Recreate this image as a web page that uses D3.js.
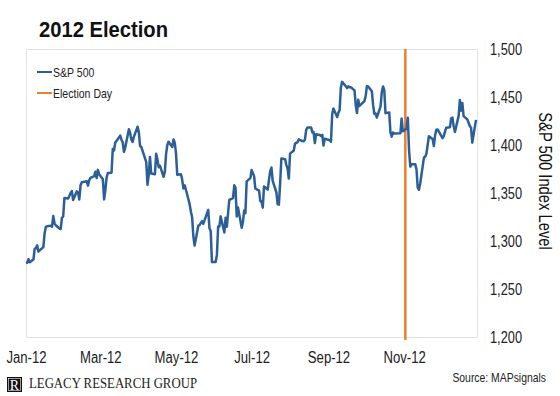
<!DOCTYPE html>
<html><head><meta charset="utf-8">
<script src="https://cdn.jsdelivr.net/npm/d3@7/dist/d3.min.js"></script>
<style>
html,body{margin:0;padding:0;background:#fff;}
svg{display:block;}
text{font-family:'Liberation Sans',Arial,sans-serif;}
</style></head>
<body><svg id="chart" width="560" height="396"></svg>
<script>
// ---- data ----
const dates = ["2012-01-03","2012-01-04","2012-01-05","2012-01-06","2012-01-09","2012-01-10","2012-01-11","2012-01-12","2012-01-13","2012-01-17","2012-01-18","2012-01-19","2012-01-20","2012-01-23","2012-01-24","2012-01-25","2012-01-26","2012-01-27","2012-01-30","2012-01-31",
"2012-02-01","2012-02-02","2012-02-03","2012-02-06","2012-02-07","2012-02-08","2012-02-09","2012-02-10","2012-02-13","2012-02-14","2012-02-15","2012-02-16","2012-02-17","2012-02-21","2012-02-22","2012-02-23","2012-02-24","2012-02-27","2012-02-28","2012-02-29",
"2012-03-01","2012-03-02","2012-03-05","2012-03-06","2012-03-07","2012-03-08","2012-03-09","2012-03-12","2012-03-13","2012-03-14","2012-03-15","2012-03-16","2012-03-19","2012-03-20","2012-03-21","2012-03-22","2012-03-23","2012-03-26","2012-03-27","2012-03-28","2012-03-29","2012-03-30",
"2012-04-02","2012-04-03","2012-04-04","2012-04-05","2012-04-09","2012-04-10","2012-04-11","2012-04-12","2012-04-13","2012-04-16","2012-04-17","2012-04-18","2012-04-19","2012-04-20","2012-04-23","2012-04-24","2012-04-25","2012-04-26","2012-04-27","2012-04-30",
"2012-05-01","2012-05-02","2012-05-03","2012-05-04","2012-05-07","2012-05-08","2012-05-09","2012-05-10","2012-05-11","2012-05-14","2012-05-15","2012-05-16","2012-05-17","2012-05-18","2012-05-21","2012-05-22","2012-05-23","2012-05-24","2012-05-25","2012-05-29","2012-05-30","2012-05-31",
"2012-06-01","2012-06-04","2012-06-05","2012-06-06","2012-06-07","2012-06-08","2012-06-11","2012-06-12","2012-06-13","2012-06-14","2012-06-15","2012-06-18","2012-06-19","2012-06-20","2012-06-21","2012-06-22","2012-06-25","2012-06-26","2012-06-27","2012-06-28","2012-06-29",
"2012-07-02","2012-07-03","2012-07-05","2012-07-06","2012-07-09","2012-07-10","2012-07-11","2012-07-12","2012-07-13","2012-07-16","2012-07-17","2012-07-18","2012-07-19","2012-07-20","2012-07-23","2012-07-24","2012-07-25","2012-07-26","2012-07-27","2012-07-30","2012-07-31",
"2012-08-01","2012-08-02","2012-08-03","2012-08-06","2012-08-07","2012-08-08","2012-08-09","2012-08-10","2012-08-13","2012-08-14","2012-08-15","2012-08-16","2012-08-17","2012-08-20","2012-08-21","2012-08-22","2012-08-23","2012-08-24","2012-08-27","2012-08-28","2012-08-29","2012-08-30","2012-08-31",
"2012-09-04","2012-09-05","2012-09-06","2012-09-07","2012-09-10","2012-09-11","2012-09-12","2012-09-13","2012-09-14","2012-09-17","2012-09-18","2012-09-19","2012-09-20","2012-09-21","2012-09-24","2012-09-25","2012-09-26","2012-09-27","2012-09-28",
"2012-10-01","2012-10-02","2012-10-03","2012-10-04","2012-10-05","2012-10-08","2012-10-09","2012-10-10","2012-10-11","2012-10-12","2012-10-15","2012-10-16","2012-10-17","2012-10-18","2012-10-19","2012-10-22","2012-10-23","2012-10-24","2012-10-25","2012-10-26","2012-10-31",
"2012-11-01","2012-11-02","2012-11-05","2012-11-06","2012-11-07","2012-11-08","2012-11-09","2012-11-12","2012-11-13","2012-11-14","2012-11-15","2012-11-16","2012-11-19","2012-11-20","2012-11-21","2012-11-23","2012-11-26","2012-11-27","2012-11-28","2012-11-29","2012-11-30",
"2012-12-03","2012-12-04","2012-12-05","2012-12-06","2012-12-07","2012-12-10","2012-12-11","2012-12-12","2012-12-13","2012-12-14","2012-12-17","2012-12-18","2012-12-19","2012-12-20","2012-12-21","2012-12-24","2012-12-26","2012-12-27","2012-12-28","2012-12-31"];
const spx = [1277.06,1277.30,1281.06,1277.81,1280.70,1292.08,1292.48,1295.50,1289.09,1293.67,1308.04,1314.50,1315.38,1316.00,1314.65,1326.06,1318.43,1316.33,1313.01,1312.41,
1324.09,1325.54,1344.90,1344.33,1347.05,1349.96,1351.95,1342.64,1351.77,1350.50,1343.23,1358.04,1361.23,1362.21,1357.66,1363.46,1365.74,1367.59,1372.18,1365.68,
1374.09,1369.63,1364.33,1343.36,1352.63,1365.91,1370.87,1371.09,1395.95,1394.28,1402.60,1404.17,1409.75,1405.52,1402.89,1392.78,1397.11,1416.51,1412.52,1405.54,1403.28,1408.47,
1419.04,1413.38,1398.96,1398.08,1382.20,1358.59,1368.71,1387.57,1370.26,1369.57,1390.78,1385.14,1376.92,1378.53,1366.94,1371.97,1390.69,1399.98,1403.36,1397.91,
1405.82,1402.31,1391.57,1369.10,1369.58,1363.72,1354.58,1357.99,1353.39,1338.35,1330.66,1324.80,1304.86,1295.22,1315.99,1316.63,1318.86,1320.68,1317.82,1332.42,1313.32,1310.33,
1278.04,1278.18,1285.50,1315.13,1314.99,1325.66,1308.93,1324.18,1314.88,1329.10,1342.84,1344.78,1357.98,1355.69,1325.51,1335.02,1313.72,1319.99,1331.85,1329.04,1362.16,
1365.51,1374.02,1367.58,1354.68,1352.46,1341.47,1341.45,1334.76,1356.78,1353.64,1363.67,1372.78,1376.51,1362.66,1350.52,1338.31,1337.89,1360.02,1385.97,1385.30,1379.32,
1375.32,1365.00,1390.99,1394.23,1401.35,1402.22,1402.80,1405.87,1404.11,1403.93,1405.53,1415.51,1418.16,1418.13,1413.17,1413.49,1402.08,1411.13,1410.44,1409.30,1410.49,1399.48,1406.58,
1404.94,1403.44,1432.12,1437.92,1429.08,1433.56,1436.56,1459.99,1465.77,1461.19,1459.32,1461.05,1460.26,1460.15,1456.89,1441.59,1433.32,1447.15,1440.67,
1444.49,1445.75,1450.99,1461.40,1460.93,1455.88,1441.48,1432.56,1432.84,1428.59,1440.13,1454.92,1460.91,1457.34,1433.19,1433.82,1413.11,1408.75,1412.97,1411.94,1412.16,
1427.59,1414.20,1417.26,1428.39,1394.53,1377.51,1379.85,1380.03,1374.53,1355.49,1353.33,1359.88,1386.89,1387.81,1391.03,1409.15,1406.29,1398.94,1409.93,1415.95,1416.18,
1409.46,1407.05,1409.28,1413.94,1418.07,1418.55,1427.84,1428.48,1419.45,1413.58,1430.36,1446.79,1435.81,1443.69,1430.15,1426.66,1419.83,1418.10,1402.43,1426.19];
const electionDay = "2012-11-04";
const xTickDates = ["2012-01-03","2012-03-03","2012-05-03","2012-07-03","2012-09-03","2012-11-03"];
const xTickLabels = ["Jan-12","Mar-12","May-12","Jul-12","Sep-12","Nov-12"];
const yTicks = [1200,1250,1300,1350,1400,1450,1500];
const legendLabels = ["S&P 500","Election Day"];
const titleText = "2012 Election";
const yTitle = "S&P 500 Index Level";
const sourceText = "Source: MAPsignals";
const brandText = "LEGACY RESEARCH GROUP";

// ---- chart ----
const parse = d3.timeParse("%Y-%m-%d");
const series = dates.map((d,i)=>({date:parse(d), v:spx[i]}));
const blue = "#2b5f98", orange = "#f07d2c";
const svg = d3.select("#chart");
const L=26, R=477, T=49, B=337;
const x = d3.scaleTime().domain([parse("2012-01-03"), parse("2012-12-31")]).range([L, 476]);
const y = d3.scaleLinear().domain([1200,1500]).range([B, T]);

// narrow-font emulation: squeeze glyphs horizontally
function condense(sel, f){
  sel.each(function(){
    const len = this.getComputedTextLength();
    d3.select(this).attr("textLength", len*f).attr("lengthAdjust","spacingAndGlyphs");
  });
}

svg.append("rect").attr("x",L+0.5).attr("y",T+0.5).attr("width",R-L).attr("height",B-T)
  .attr("fill","none").attr("stroke","#e3e3e3").attr("stroke-width",1);

// title
svg.append("text").attr("x",39).attr("y",37).text(titleText)
  .attr("font-size",22).attr("font-weight","bold").attr("fill","#111")
  .attr("textLength",129).attr("lengthAdjust","spacingAndGlyphs");

// election line
svg.append("line").attr("x1",x(parse(electionDay))).attr("x2",x(parse(electionDay)))
  .attr("y1",T).attr("y2",B+3).attr("stroke",orange).attr("stroke-width",2.5);

// S&P line
svg.append("path").datum(series)
  .attr("fill","none").attr("stroke",blue).attr("stroke-width",2.5).attr("stroke-linejoin","round")
  .attr("d", d3.line().x(d=>x(d.date)).y(d=>y(d.v)));

// y axis (right)
const yAxis = svg.append("g").attr("transform",`translate(490,0)`)
  .call(d3.axisRight(y).tickValues(yTicks).tickSize(0).tickPadding(0).tickFormat(d3.format(",")));
yAxis.select(".domain").remove();
yAxis.selectAll("text").attr("font-size",16).attr("fill","#222").attr("font-family",null);
condense(yAxis.selectAll("text"), 0.8);

const yt = svg.append("text").attr("transform",`translate(539,181) rotate(90)`).attr("text-anchor","middle")
  .attr("font-size",18).attr("fill","#111").text(yTitle);
condense(yt, 0.82);

// x axis
const xAxis = svg.append("g").attr("transform",`translate(0,${B})`)
  .call(d3.axisBottom(x).tickValues(xTickDates.map(parse)).tickSize(0).tickPadding(15)
    .tickFormat((d,i)=>xTickLabels[i]));
xAxis.select(".domain").remove();
xAxis.selectAll("text").attr("font-size",16).attr("fill","#222").attr("font-family",null);
condense(xAxis.selectAll("text"), 0.82);

// legend
const lg = svg.append("g");
[blue, orange].forEach((c,i)=>{
  const yy = 72 + i*21;
  lg.append("line").attr("x1",37).attr("x2",52).attr("y1",yy).attr("y2",yy).attr("stroke",c).attr("stroke-width",2);
  const t = lg.append("text").attr("x",53).attr("y",yy).attr("dy","0.35em").attr("font-size",13).attr("fill","#222").text(legendLabels[i]);
  condense(t, 0.81);
});

// source: right edge at 546, horizontally squeezed with a transform
svg.append("text").attr("transform","translate(546,382) scale(0.8,1)").attr("text-anchor","end")
  .attr("font-size",13).attr("fill","#222").text(sourceText);

// brand logo
svg.append("rect").attr("x",7).attr("y",377).attr("width",15).attr("height",15).attr("fill","#111");
svg.append("rect").attr("x",8.5).attr("y",378.5).attr("width",12).attr("height",12).attr("fill","none").attr("stroke","#fff").attr("stroke-width",0.6);
svg.append("text").attr("x",14.5).attr("y",389.5).attr("text-anchor","middle").attr("font-size",14)
  .style("font-family","'Liberation Serif','Times New Roman',serif").attr("fill","#fff").text("R");
svg.append("text").attr("x",29).attr("y",388).attr("font-size",15)
  .style("font-family","'Liberation Serif','Times New Roman',serif").attr("fill","#222")
  .attr("textLength",168).attr("lengthAdjust","spacingAndGlyphs").text(brandText);
</script></body></html>
